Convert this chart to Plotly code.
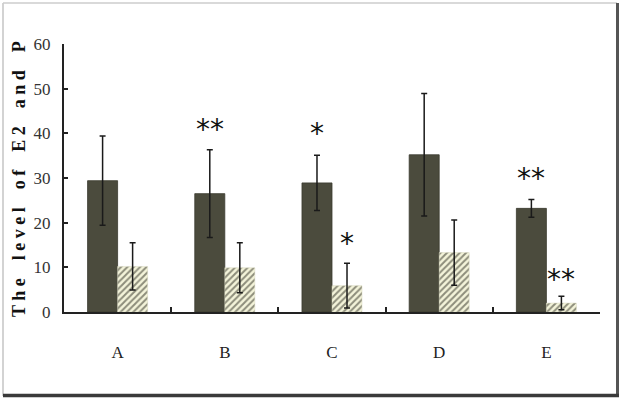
import plotly.graph_objects as go

categories = ["A", "B", "C", "D", "E"]
e2_values = [29.4, 26.5, 28.9, 35.2, 23.2]
e2_errors = [10.0, 9.8, 6.2, 13.7, 2.0]
p_values = [10.2, 9.9, 5.9, 13.3, 2.0]
p_errors = [5.3, 5.6, 5.0, 7.3, 1.5]
y_ticks = [0, 10, 20, 30, 40, 50, 60]

# significance marks: (category, series index 0=E2 1=P, label, y position in data units)
sig_cats = ["B", "C", "C", "E", "E"]
sig_series = [0, 0, 1, 0, 1]
sig_labels = ["**", "*", "*", "**", "**"]
sig_y = [42.3, 41.4, 16.6, 31.3, 8.7]

W, H = 624, 401
ML, MR, MT, MB = 64, 24, 44, 89
PW, PH = W - ML - MR, H - MT - MB

def px(x):
    return (x - ML) / PW

def py(y):
    return (H - MB - y) / PH

dark = "#4b4b3d"
pale = "#f4f4da"

fig = go.Figure()
fig.add_trace(go.Bar(
    x=categories, y=e2_values, name="E2",
    marker=dict(color=dark, line=dict(color="#3a3a2e", width=0.8)),
    error_y=dict(type="data", array=e2_errors, visible=True, color="#1a1a1a", thickness=1.5, width=3),
))
fig.add_trace(go.Bar(
    x=categories, y=p_values, name="P",
    marker=dict(color=pale, line=dict(color="#d8d8c0", width=0.5),
                pattern=dict(shape="/", fgcolor="#26261c", size=4.5, solidity=0.45)),
    error_y=dict(type="data", array=p_errors, visible=True, color="#1a1a1a", thickness=1.5, width=3),
))

annotations = []
for c, s, lab, yv in zip(sig_cats, sig_series, sig_labels, sig_y):
    annotations.append(dict(
        x=c, y=yv, xref="x", yref="y", text=lab, showarrow=False,
        xshift=-15 if s == 0 else 15, yshift=-6, yanchor="middle",
        font=dict(family="DejaVu Sans", size=28, color="#111111"),
    ))
annotations.append(dict(
    x=px(19), y=py(179), xref="paper", yref="paper", showarrow=False,
    xanchor="center", yanchor="middle",
    text="T h e    l e v e l    o f    E 2    a n d    P", textangle=-90,
    font=dict(family="Liberation Serif", size=18, color="#111111", weight="bold"),
))

shapes = [
    dict(type="line", xref="paper", yref="paper", x0=px(3), x1=px(3), y0=py(3), y1=py(396),
         line=dict(color="#c4c4c4", width=1.5)),
    dict(type="line", xref="paper", yref="paper", x0=px(3), x1=px(617), y0=py(3), y1=py(3),
         line=dict(color="#cccccc", width=1.5)),
    dict(type="line", xref="paper", yref="paper", x0=px(617.5), x1=px(617.5), y0=py(3), y1=py(397),
         line=dict(color="#555555", width=3)),
    dict(type="line", xref="paper", yref="paper", x0=px(3), x1=px(619), y0=py(395.5), y1=py(395.5),
         line=dict(color="#3a3a3a", width=3.5)),
]

fig.update_layout(
    width=W, height=H,
    margin=dict(l=ML, r=MR, t=MT, b=MB),
    paper_bgcolor="white", plot_bgcolor="white",
    barmode="group", bargap=0.44, bargroupgap=0,
    showlegend=False,
    annotations=annotations, shapes=shapes,
    xaxis=dict(
        categoryorder="array", categoryarray=categories,
        range=[-0.5, 4.5], showline=True, linecolor="#222222", linewidth=2,
        ticks="inside", tickson="boundaries", ticklen=5, tickcolor="#222222", tickwidth=1.5,
        ticklabelstandoff=24, showgrid=False, zeroline=False,
        tickfont=dict(family="Liberation Serif", size=17, color="#222222"),
    ),
    yaxis=dict(
        range=[0, 60], tickvals=y_ticks, showline=True, linecolor="#222222", linewidth=2,
        ticks="inside", ticklen=4, tickcolor="#222222", tickwidth=1.5,
        ticklabelstandoff=8, showgrid=False, zeroline=False,
        tickfont=dict(family="Liberation Serif", size=17, color="#333333"),
    ),
)

fig.write_html("out.html", config={"displayModeBar": False},
               post_script="document.body.style.margin='0px';document.body.style.overflow='hidden';")
